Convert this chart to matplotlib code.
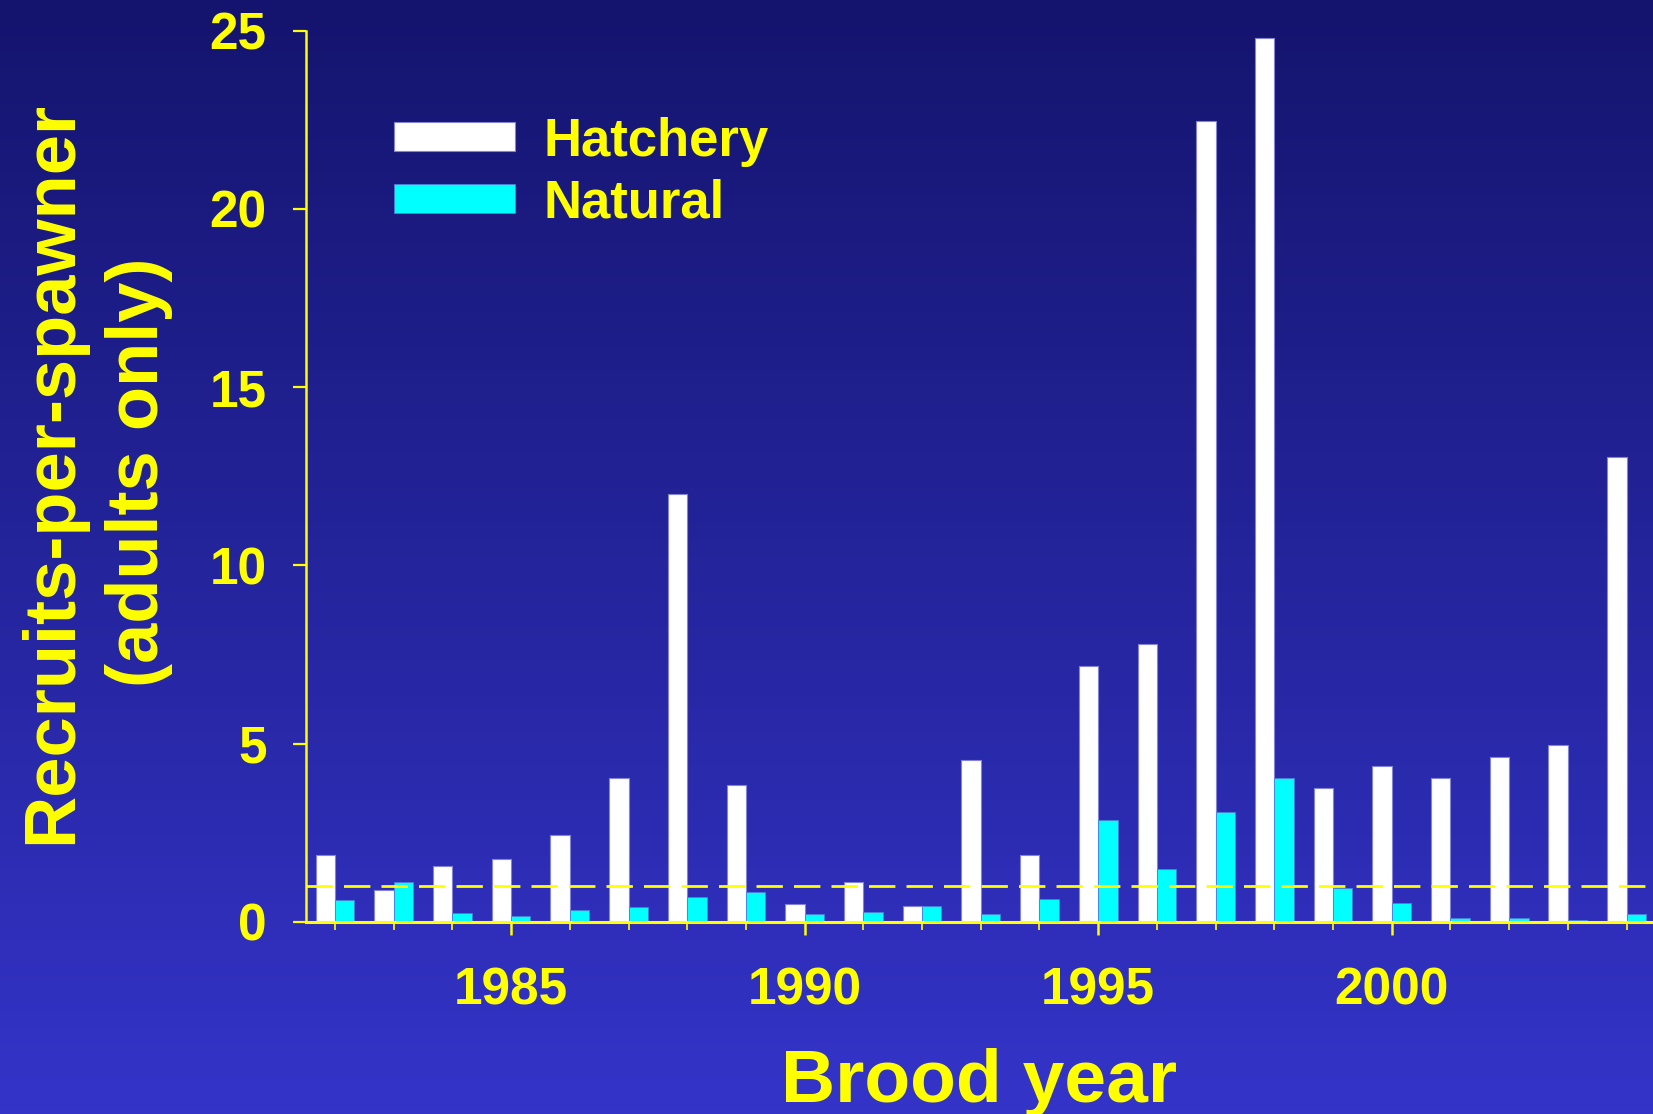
import numpy as np
import matplotlib
matplotlib.use("Agg")
import matplotlib.pyplot as plt
from matplotlib.colors import LinearSegmentedColormap
from matplotlib.ticker import MultipleLocator

# Brood years and recruits-per-spawner (adults only)
years = list(range(1982, 2005))
hatchery = [1.87, 0.89, 1.57, 1.76, 2.43, 4.02, 12.0, 3.84, 0.50, 1.12, 0.43,
            4.55, 1.86, 7.18, 7.80, 22.46, 24.79, 3.76, 4.38, 4.03, 4.61, 4.96, 13.03]
natural = [0.61, 1.12, 0.24, 0.16, 0.33, 0.41, 0.68, 0.83, 0.22, 0.27, 0.44,
           0.22, 0.64, 2.84, 1.48, 3.08, 4.02, 0.95, 0.52, 0.11, 0.11, 0.06, 0.21]
series_names = ["Hatchery", "Natural"]
replacement_level = 1.0
x_tick_years = [1985, 1990, 1995, 2000]
y_ticks = [0, 5, 10, 15, 20, 25]

YELLOW = "#FFFF00"
FONT = "Liberation Sans"

plt.rcParams["font.family"] = [FONT, "DejaVu Sans"]
plt.rcParams["font.weight"] = "bold"

fig = plt.figure(figsize=(16.53, 11.14), dpi=100)

# Vertical gradient background
bg = fig.add_axes([0, 0, 1, 1], zorder=0)
cmap = LinearSegmentedColormap.from_list("bg", ["#14146e", "#3434c9"])
grad = np.linspace(0, 1, 256).reshape(-1, 1)
bg.imshow(grad, aspect="auto", cmap=cmap, extent=[0, 1, 0, 1], origin="upper")
bg.set_axis_off()

ax = fig.add_axes([0.1851, 0.1726, 0.8149, 0.7999], zorder=1)
ax.set_facecolor("none")

w = 0.33
x = np.array(years, dtype=float)
b1 = ax.bar(x - w / 2, hatchery, width=w, color="white",
            edgecolor="#8484d6", linewidth=0.8, zorder=2, label=series_names[0])
b2 = ax.bar(x + w / 2, natural, width=w, color="#00FFFF",
            edgecolor="#4a7fe0", linewidth=0.6, zorder=3, label=series_names[1])

ax.axhline(replacement_level, color=YELLOW, lw=2.0, dashes=(9.5, 4), zorder=4)

ax.set_xlim(1981.506, 2004.45)
ax.set_ylim(0, 25)

for s in ["top", "right"]:
    ax.spines[s].set_visible(False)
ax.spines["left"].set_color(YELLOW)
ax.spines["left"].set_linewidth(1.8)
ax.spines["bottom"].set_color(YELLOW)
ax.spines["bottom"].set_linewidth(2.2)
ax.spines["bottom"].set_zorder(5)

ax.set_xticks(x_tick_years)
ax.xaxis.set_minor_locator(MultipleLocator(1))
ax.set_yticks(y_ticks)

ax.tick_params(axis="x", which="major", direction="out", length=9.4, width=1.8,
               color=YELLOW, labelcolor=YELLOW, labelsize=37, pad=23)
ax.tick_params(axis="x", which="minor", direction="out", length=5.8, width=1.2,
               color=YELLOW)
ax.tick_params(axis="y", which="major", direction="out", length=9.4, width=1.6,
               color=YELLOW, labelcolor=YELLOW, labelsize=37, pad=19)
for lab in ax.get_xticklabels() + ax.get_yticklabels():
    lab.set_fontweight("bold")

ax.set_xlabel("Brood year", fontsize=54, fontweight="bold", color=YELLOW,
              va="baseline")
ax.xaxis.set_label_coords(0.5, -0.202)

ax.set_ylabel("Recruits-per-spawner\n(adults only)", fontsize=52,
              fontweight="bold", color=YELLOW, linespacing=1.36)
ax.yaxis.set_label_coords(-0.0989, 0.504)

leg = ax.legend(handles=[b1, b2], loc="upper left",
                bbox_to_anchor=(0.065, 0.9035), frameon=False,
                fontsize=38, handlelength=2.3, handleheight=0.46,
                handletextpad=0.55, labelspacing=0.22, borderpad=0,
                borderaxespad=0)
for t in leg.get_texts():
    t.set_color(YELLOW)
    t.set_fontweight("bold")

fig.savefig("out.png", dpi=100)
